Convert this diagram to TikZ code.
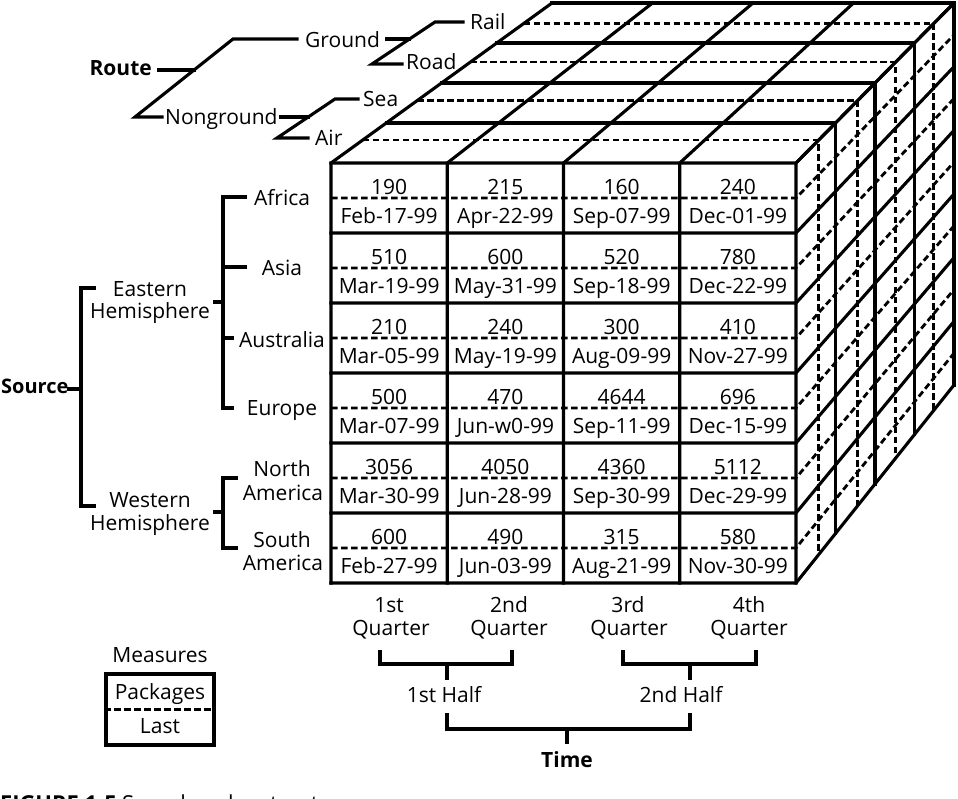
\documentclass[tikz,border=0pt]{standalone}
\usepackage{fontspec}
\setmainfont{Open Sans}
\pgfmathdeclarefunction{cx}{2}{\pgfmathparse{331+221*#2+(465-63*#2)*#1}}
\pgfmathdeclarefunction{cy}{2}{\pgfmathparse{163-160*#2+(420-38*#2)*#1}}
\newcommand\cellpair[4]{%
  \node[lbl] (n#1#2) at ({331+116.25*(#2+0.5)},{194+70*#1}) {#3};
  \node[lbl] (d#1#2) at ({331+116.25*(#2+0.5)},{223.5+70*#1}) {#4};}
\begin{document}
\begin{tikzpicture}[x=1pt,y=-1pt,
  sol/.style={line width=3.1pt, line cap=rect},
  dsh/.style={line width=2.8pt, dash pattern=on 6.5pt off 3.5pt},
  lbl/.style={inner sep=0pt, anchor=base, font=\fontsize{21}{24}\selectfont},
  blbl/.style={inner sep=0pt, anchor=base, font=\fontsize{21}{24}\selectfont\bfseries}]
\useasboundingbox (0,0) rectangle (958,798);
\clip (0,0) rectangle (958,798);

% ---------- cube: dashed lines ----------
\foreach \kk in {0,...,5}{
  \pgfmathsetmacro\vv{(\kk+0.5)/6}
  \draw[dsh] ({cx(0,0)},{cy(\vv,0)}) -- ({cx(1,0)},{cy(\vv,0)}) -- ({cx(1,1)},{cy(\vv,1)});
}
\foreach \tq in {0.144,0.391,0.631,0.872}{
  \draw[dsh] ({cx(0,\tq)},{cy(0,\tq)}) -- ({cx(1,\tq)},{cy(0,\tq)}) -- ({cx(1,\tq)},{cy(1,\tq)});
}
% ---------- cube: solid lines ----------
\foreach \uu in {0,0.25,0.5,0.75,1}{
  \draw[sol] ({cx(\uu,0)},{cy(1,0)}) -- ({cx(\uu,0)},{cy(0,0)}) -- ({cx(\uu,1)},{cy(0,1)});
}
\foreach \kk in {0,...,6}{
  \pgfmathsetmacro\vv{\kk/6}
  \draw[sol] ({cx(0,0)},{cy(\vv,0)}) -- ({cx(1,0)},{cy(\vv,0)}) -- ({cx(1,1)},{cy(\vv,1)});
}
\foreach \tq in {0.25,0.5,0.75,1}{
  \draw[sol] ({cx(0,\tq)},{cy(0,\tq)}) -- ({cx(1,\tq)},{cy(0,\tq)}) -- ({cx(1,\tq)},{cy(1,\tq)});
}

% ---------- cell values ----------
\cellpair{0}{0}{190}{Feb-17-99}
\cellpair{0}{1}{215}{Apr-22-99}
\cellpair{0}{2}{160}{Sep-07-99}
\cellpair{0}{3}{240}{Dec-01-99}
\cellpair{1}{0}{510}{Mar-19-99}
\cellpair{1}{1}{600}{May-31-99}
\cellpair{1}{2}{520}{Sep-18-99}
\cellpair{1}{3}{780}{Dec-22-99}
\cellpair{2}{0}{210}{Mar-05-99}
\cellpair{2}{1}{240}{May-19-99}
\cellpair{2}{2}{300}{Aug-09-99}
\cellpair{2}{3}{410}{Nov-27-99}
\cellpair{3}{0}{500}{Mar-07-99}
\cellpair{3}{1}{470}{Jun-w0-99}
\cellpair{3}{2}{4644}{Sep-11-99}
\cellpair{3}{3}{696}{Dec-15-99}
\cellpair{4}{0}{3056}{Mar-30-99}
\cellpair{4}{1}{4050}{Jun-28-99}
\cellpair{4}{2}{4360}{Sep-30-99}
\cellpair{4}{3}{5112}{Dec-29-99}
\cellpair{5}{0}{600}{Feb-27-99}
\cellpair{5}{1}{490}{Jun-03-99}
\cellpair{5}{2}{315}{Aug-21-99}
\cellpair{5}{3}{580}{Nov-30-99}

% ---------- Route tree ----------
\node[blbl, anchor=base east] (route) at (152,75) {Route};
\node[lbl, anchor=base west] (ground) at (305,47) {Ground};
\node[lbl, anchor=base west] (nonground) at (165,124) {Nonground};
\node[lbl, anchor=base west] (rail) at (470,29) {Rail};
\node[lbl, anchor=base west] (road) at (406,69) {Road};
\node[lbl, anchor=base west] (sea) at (363,106) {Sea};
\node[lbl, anchor=base west] (air) at (315,145) {Air};
\coordinate (rA) at (135,117);
\coordinate (rB) at (233,39);
\coordinate (rM) at (194,70);
\coordinate (gA) at (372,64);
\coordinate (gB) at (435,22);
\coordinate (gM) at (409.5,39);
\coordinate (nA) at (277,138);
\coordinate (nB) at (335,99);
\coordinate (nM) at (308.2,117);
\draw[sol] ([xshift=-3pt]nonground.base west |- rA) -- (rA) -- (rB) -- ([xshift=-8pt]ground.base west |- rB);
\draw[sol] ([xshift=7pt]route.base east |- rM) -- (rM);
\draw[sol] ([xshift=-4pt]road.base west |- gA) -- (gA) -- (gB) -- ([xshift=-7pt]rail.base west |- gB);
\draw[sol] ([xshift=6pt]ground.base east |- gM) -- (gM);
\draw[sol] ([xshift=-7pt]air.base west |- nA) -- (nA) -- (nB) -- ([xshift=-5pt]sea.base west |- nB);
\draw[sol] ([xshift=3pt]nonground.base east |- nM) -- (nM);

% ---------- Source tree ----------
\node[blbl, anchor=base west, font=\fontsize{20}{24}\selectfont\bfseries] (source) at (1,393) {Source};
\node[lbl] (eastA) at (150,296) {Eastern};
\node[lbl] (eastB) at (150,318) {Hemisphere};
\node[lbl] (westA) at (150,507) {Western};
\node[lbl] (westB) at (150,530) {Hemisphere};
\node[lbl] (africa) at (282,205) {Africa};
\node[lbl] (asia) at (282,275) {Asia};
\node[lbl] (australia) at (282,347) {Australia};
\node[lbl] (europe) at (282,415) {Europe};
\node[lbl] (northA) at (282,476) {North};
\node[lbl] (northB) at (283,500) {America};
\node[lbl] (southA) at (282,547) {South};
\node[lbl] (southB) at (283,570) {America};
\coordinate (sM) at (81,389);
\coordinate (sT) at (81,288);
\coordinate (sB) at (81,506);
\draw[sol] (source.base east |- sM) -- (sM);
\draw[sol] (94,288) -- (sT) -- (sB) -- (94,506);
\coordinate (eM) at (223,302);
\coordinate (eT) at (223,197);
\coordinate (eB) at (223,408);
\draw[sol] ([xshift=5pt]eastB.base east |- eM) -- (eM);
\draw[sol] ([xshift=-8pt]africa.base west |- eT) -- (eT) -- (eB) -- ([xshift=-14pt]europe.base west |- eB);
\draw[sol] (223,267) -- ([xshift=-16pt]asia.base west |- 0,267);
\draw[sol] (223,338) -- ([xshift=-6pt]australia.base west |- 0,338);
\coordinate (wM) at (223,512);
\coordinate (wT) at (223,478);
\coordinate (wB) at (223,548);
\draw[sol] ([xshift=5pt]westB.base east |- wM) -- (wM);
\draw[sol] (236,478) -- (wT) -- (wB) -- (236,548);

% ---------- Time tree ----------
\node[lbl] (q1a) at (389,612) {1st};
\node[lbl] (q1b) at (391,635) {Quarter};
\node[lbl] (q2a) at (509,612) {2nd};
\node[lbl] (q2b) at (509,635) {Quarter};
\node[lbl] (q3a) at (628,612) {3rd};
\node[lbl] (q3b) at (629,635) {Quarter};
\node[lbl] (q4a) at (749,612) {4th};
\node[lbl] (q4b) at (749,635) {Quarter};
\node[lbl] (h1) at (444,702) {1st Half};
\node[lbl] (h2) at (681,702) {2nd Half};
\node[blbl] (time) at (567,767) {Time};
\draw[sol] (380,652) -- (380,664) -- (512,664) -- (512,652);
\draw[sol] (447,664) -- (447,678);
\draw[sol] (623,652) -- (623,664) -- (756,664) -- (756,652);
\draw[sol] (690,664) -- (690,678);
\draw[sol] (447,715) -- (447,729) -- (690,729) -- (690,715);
\draw[sol] (567,729) -- (567,742);

% ---------- Measures ----------
\node[lbl] (measures) at (160,662) {Measures};
\node[draw, line width=3.1pt, minimum width=108pt, minimum height=71pt, inner sep=0pt] (mbox) at (160,709.5) {};
\draw[dsh] (mbox.west) -- (mbox.east);
\node[lbl] (packages) at (160,699) {Packages};
\node[lbl] (last) at (160,733) {Last};

% ---------- caption (cut off at the bottom, as in the reference) ----------
\node[inner sep=0pt, anchor=base west, font=\fontsize{22}{24}\selectfont\bfseries] (capA) at (0,811) {FIGURE 1-5};
\node[inner sep=0pt, anchor=base west, font=\fontsize{22}{24}\selectfont] (capB) at (122,811) {Sample cube structure};
\end{tikzpicture}
\end{document}
